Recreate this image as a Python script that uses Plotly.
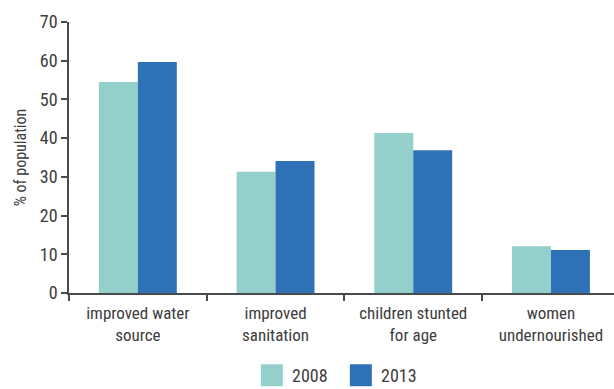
import plotly.graph_objects as go

categories = ["improved water<br>source", "improved<br>sanitation",
              "children stunted<br>for age", "women<br>undernourished"]
years = ["2008", "2013"]
values_2008 = [54.5, 31.3, 41.3, 12.1]
values_2013 = [59.7, 34.1, 36.9, 11.1]
y_ticks = [0, 10, 20, 30, 40, 50, 60, 70]

colors = {"2008": "#93d0cb", "2013": "#2e71b7"}
text_color = "#3d3d3d"
axis_color = "#4a4a4a"
font_family = "Liberation Sans Narrow, Roboto Condensed, Roboto, sans-serif"

fig = go.Figure()
for year, vals in zip(years, [values_2008, values_2013]):
    fig.add_trace(go.Bar(
        x=categories, y=vals, name=year,
        marker=dict(color=colors[year], line=dict(width=0)),
        showlegend=False, hoverinfo="skip",
    ))

# legend drawn as swatches + labels below the plot
legend_x0 = 0.352
swatch_w = 22 / 545
for i, year in enumerate(years):
    x0 = legend_x0 + i * (89 / 545)
    fig.add_shape(type="rect", xref="paper", yref="paper",
                  x0=x0, x1=x0 + swatch_w, y0=-0.263, y1=-0.344,
                  fillcolor=colors[year], line=dict(width=0))
    fig.add_annotation(xref="paper", yref="paper", x=x0 + swatch_w + 7 / 545,
                       y=-0.3035, text=year, showarrow=False,
                       xanchor="left", yanchor="middle",
                       font=dict(size=18, color=text_color, family=font_family))

fig.update_layout(
    width=614, height=389,
    margin=dict(l=69, r=0, t=22, b=96),
    paper_bgcolor="white", plot_bgcolor="white",
    barmode="group", bargap=0.434, bargroupgap=0,
    font=dict(family=font_family, color=text_color, size=17),
    showlegend=False,
)
fig.update_xaxes(
    type="category", range=[-0.5, 3.458],
    showline=True, linecolor=axis_color, linewidth=1.5,
    ticks="outside", tickson="boundaries", ticklen=6, tickcolor=axis_color,
    tickwidth=1.5, showgrid=False, zeroline=False,
    ticklabelstandoff=4,
    tickfont=dict(size=17, color=text_color),
)
fig.update_yaxes(
    range=[0, 70], tickvals=y_ticks,
    showline=True, linecolor=axis_color, linewidth=1.5,
    ticks="outside", ticklen=6, tickcolor=axis_color, tickwidth=1.5,
    showgrid=False, zeroline=False,
    tickfont=dict(size=18, color=text_color),
    title=dict(text="% of population", standoff=9,
               font=dict(size=16, color=text_color)),
)

fig.write_html("out.html")
